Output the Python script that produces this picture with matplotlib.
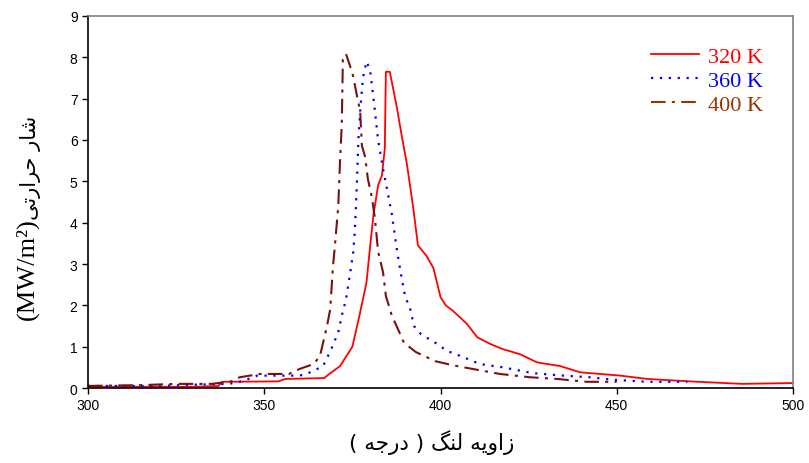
import numpy as np
import matplotlib.pyplot as plt
from matplotlib.lines import Line2D

# ── Datos ─────────────────────────────────────────────────────────────────

x_320 = [300, 330, 337, 338, 354, 356, 367, 368, 371.5, 375, 377, 379, 380,
         381, 382.3, 383.4, 384.2, 384.5, 385.6, 386.2, 387.7, 389, 390.5,
         392.2, 393.6, 396, 398, 400, 401.5, 403.5, 407.5, 410.4, 414, 417.7,
         422.5, 427.4, 434, 439.6, 451, 458.6, 470.8, 485.5, 500]
y_320 = [0.03, 0.03, 0.05, 0.15, 0.16, 0.22, 0.24, 0.31, 0.53, 1.0, 1.75, 2.55,
         3.4, 4.2, 4.9, 5.15, 5.8, 7.65, 7.65, 7.4, 6.75, 6.1, 5.4,
         4.4, 3.45, 3.2, 2.9, 2.2, 2.0, 1.87, 1.55, 1.23, 1.07, 0.94,
         0.82, 0.62, 0.53, 0.38, 0.3, 0.22, 0.16, 0.1, 0.12]

x_360 = [300, 320, 330, 340, 344, 348, 352.5, 360, 362, 366.7, 369, 371, 372,
         373.2, 374.3, 375.2, 375.7, 376.3, 376.7, 377.3, 378, 379, 380, 381,
         382.3, 383.7, 385, 386.2, 387.7, 389, 390, 391.3, 392.5, 394.5, 399,
         401.8, 405.5, 411.2, 417.7, 426.2, 434.8, 442.4, 449, 458.6, 470]
y_360 = [0.05, 0.05, 0.08, 0.1, 0.17, 0.3, 0.3, 0.3, 0.34, 0.53, 0.94, 1.35,
         1.75, 2.15, 2.75, 3.25, 3.8, 5.0, 6.0, 6.8, 7.5, 7.9, 7.7, 7.0,
         6.0, 5.3, 4.74, 4.2, 3.3, 2.65, 2.2, 1.95, 1.5, 1.3, 1.07,
         0.9, 0.78, 0.58, 0.5, 0.36, 0.3, 0.26, 0.2, 0.15, 0.15]

x_400 = [300, 315, 325, 335, 340, 341, 343, 348.8, 357, 360, 364, 365.8,
         366.7, 367.8, 368.7, 369.5, 370, 371, 371.5, 372, 372.3, 373.2,
         374.3, 375.2, 376.3, 377.2, 377.7, 378.6, 379.4, 380.6, 381.4,
         382.3, 383.7, 384.5, 386.2, 387.8, 389.6, 393, 398.5, 403.5, 409.2,
         416.9, 425.4, 433, 441.6, 450]
y_400 = [0.05, 0.07, 0.1, 0.1, 0.15, 0.17, 0.26, 0.34, 0.34, 0.46, 0.58, 0.77,
         1.1, 1.5, 1.9, 2.95, 3.4, 4.4, 5.5, 6.4, 7.95, 8.08,
         7.8, 7.55, 7.07, 6.7, 5.86, 5.6, 5.06, 4.58, 4.1,
         3.3, 2.8, 2.23, 1.75, 1.45, 1.1, 0.87, 0.65, 0.55, 0.46,
         0.34, 0.26, 0.22, 0.15, 0.15]

etiquetas = ['320 K', '360 K', '400 K']
x_ticks = [300, 350, 400, 450, 500]
y_ticks = list(range(10))

# Texto persa en formas de presentación (orden visual)
unidad = '(MW/m\u00b2)'
ylabel_fa = '\uFBFD\uFE97\uFEAD\uFE8D\uFEAE\uFEA3 \uFEAD\uFE8E\uFEB7'
xlabel_fa = ('( \uFEEA\uFE9F\uFEAD\uFEA9 ) \uFB93\uFEE8\uFEDF '
             '\uFEEA\uFBFE\uFEED\uFE8D\uFEAF')

# ── Figura ─────────────────────────────────────────────────────────────────

fig = plt.figure(figsize=(8.09, 4.64), dpi=100)
ax = fig.add_axes([0.1088, 0.1616, 0.8714, 0.8018])

c_red, c_blue, c_brown, c_leg = '#FF0000', '#0000FF', '#7A1010', '#993300'
ls_dot = (0, (1, 3))
ls_dashdot = (0, (7, 3, 1.5, 3))

ax.plot(x_320, y_320, color=c_red, linewidth=1.3, linestyle='-')
ax.plot(x_360, y_360, color=c_blue, linewidth=1.6, linestyle=ls_dot)
ax.plot(x_400, y_400, color=c_brown, linewidth=1.5, linestyle=ls_dashdot)

ax.set_xlim(300, 500)
ax.set_ylim(0, 9)
ax.set_xticks(x_ticks)
ax.set_yticks(y_ticks)
ax.tick_params(direction='out', length=4, width=1, labelsize=10,
               color='black')
for lab in ax.get_xticklabels() + ax.get_yticklabels():
    lab.set_family('Liberation Sans')

for s in ['left', 'bottom']:
    ax.spines[s].set_color('black')
    ax.spines[s].set_linewidth(1.2)
for s in ['top', 'right']:
    ax.spines[s].set_color('#808080')
    ax.spines[s].set_linewidth(1.2)

# Etiquetas de ejes
fig.text(0.033, 0.419, unidad, rotation=90, ha='center', va='center',
         fontsize=19, family='Liberation Serif')
fig.text(0.038, 0.639, ylabel_fa, rotation=90, ha='center', va='center',
         fontsize=15, family='DejaVu Sans')
fig.text(0.533, 0.047, xlabel_fa, ha='center', va='center',
         fontsize=15.5, family='DejaVu Sans')

# Leyenda
handles = [Line2D([], [], color=c_red, linewidth=1.3, linestyle='-'),
           Line2D([], [], color=c_blue, linewidth=1.6, linestyle=ls_dot),
           Line2D([], [], color=c_leg, linewidth=1.5, linestyle=ls_dashdot)]
ax.legend(handles, etiquetas, loc='upper right', frameon=False,
          prop={'family': 'Liberation Serif', 'size': 16},
          labelcolor=[c_red, c_blue, c_leg], handlelength=2.16,
          handletextpad=0.4, labelspacing=0.15, borderpad=0,
          borderaxespad=0, bbox_to_anchor=(0.957, 0.918))

fig.savefig('out.png', dpi=100)
